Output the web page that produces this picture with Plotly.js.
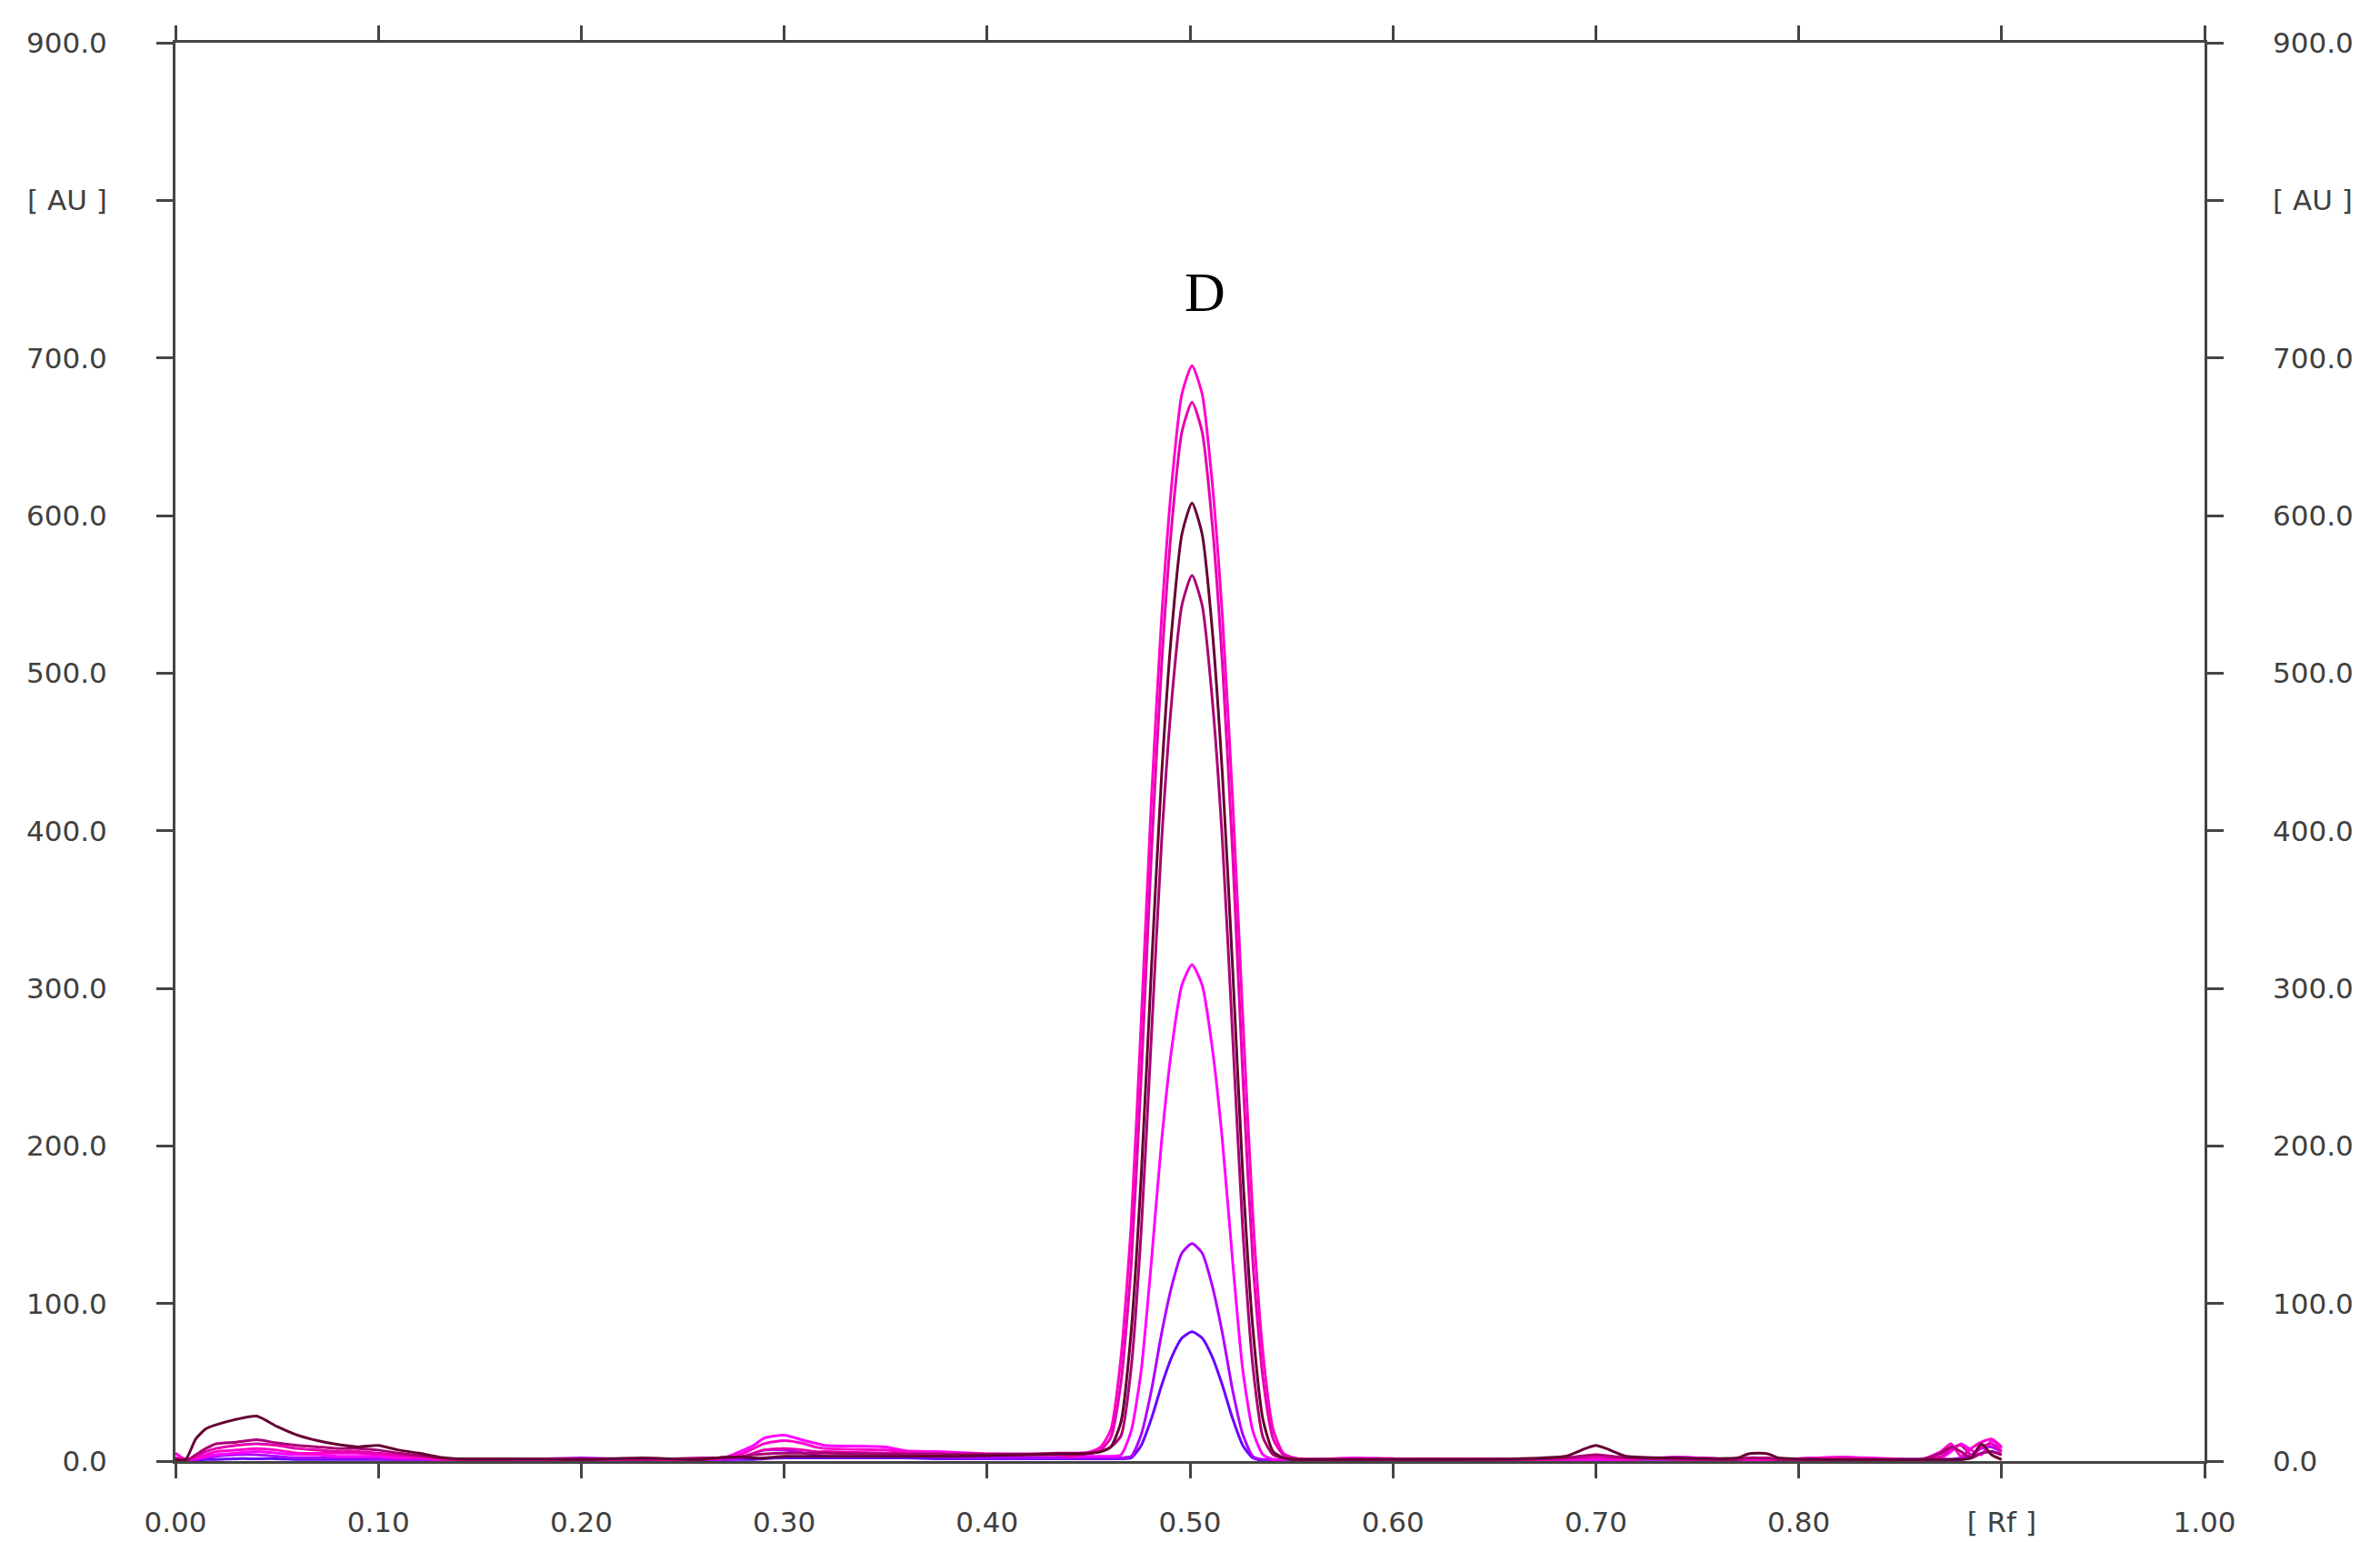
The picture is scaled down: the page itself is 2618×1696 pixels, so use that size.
<!DOCTYPE html>
<html>
<head>
<meta charset="utf-8">
<script src="https://cdn.plot.ly/plotly-3.0.1.min.js"></script>
<style>
  html, body { margin: 0; padding: 0; background: #ffffff; }
  #chart { width: 2618px; height: 1696px; }
</style>
</head>
<body>
<div id="chart"></div>
<script>
// Rf positions (shared by all tracks)
var rf = [0,0.005,0.01,0.015,0.02,0.03,0.04,0.05,0.06,0.07,0.08,0.09,0.10,0.11,0.12,0.13,0.14,
  0.17,0.20,0.23,0.26,
  0.27,0.28,0.285,0.29,0.30,0.31,0.315,0.32,0.35,0.36,0.375,0.40,0.42,0.435,
  0.441,0.446,0.451,0.456,0.461,0.466,0.471,0.476,0.481,0.486,0.491,0.496,0.501,0.506,0.511,0.516,0.521,0.526,0.531,0.536,0.541,0.546,0.551,0.556,0.561,
  0.58,0.62,0.66,0.685,0.695,0.70,0.705,0.715,0.74,0.77,0.775,0.78,0.785,0.79,0.82,0.86,0.87,0.875,0.88,0.885,0.89,0.895,0.90];

// Track signals [AU]
var trackA = [5,1,2,4,6,7,8,7,5,5,5,5,4,3,2,1,1,
  1,1,0.5,1.5,
  2,5,8,11,13,11,9,8,7,6,5,4,4,4,
  4,5,6,9,20,66,150,280,420,535,620,677,695,677,620,535,420,282,155,68,20,5,2,1,1,
  1,1.5,1,1,1.5,2,1.5,1,2,1,1,1,1,1,2.5,1,6,11,3,8,12,14,9];
var trackB = [2,1,3,6,8,10,11,10,8,7,6,6,5,4,3,1.5,1,
  1,1,1,1,
  2,3,5,7,8,7,6,6,5,5,4,4,4,4,
  3,4,5,7,15,50,124,245,386,505,594,653,672,653,594,505,386,245,126,52,14,4,2,1,1,
  1,1,1,1.5,2.5,3,2.5,2,1,1,1.5,1.5,1,1,1,1,3,8,10,4,9,11,6];
var trackC = [1,1,14,20.5,23,26.5,28.5,22,16.5,13,10.5,9,10,7,5,2.5,1.5,
  1.5,1,2,1,
  2.5,2.5,2,2,3,3,3,3,3,3,3,3.5,4,4.5,
  4.5,4.5,5,6,9,25,82,182,313,435,527,588,608,588,527,435,313,182,84,26,6,2,1,1,1,
  1,1,1.5,3,8,10,8,3,2,2,4.5,5,4.5,2,1,1,1,1,1,2,11,4,1];
var trackD = [1,0,4,8,11,12,13.5,11.5,10,9,8,8,7,5,3.5,2,1,
  1,1.5,1,2,
  2,3,4,4.5,5,5,5,5,4.5,4.5,4.5,4.5,4.5,5,
  5,5,5,6,9,16,59,147,270,393,483,543,562,543,483,393,270,147,60,15,4,2,1,1,1,
  1,1.5,1,2,3.5,4,3.5,2,1.5,1,2,2,2,1,1,1,5,9,6,2,5,6,4];
var trackE = [2,1,2,3,4,5,6,5,4,4,3,3,3,2,2,1,1,
  0.5,1,1,1,
  2,7,10,14.5,16.5,13,11.5,10,9,6.5,6,4.6,4.5,4,
  3,3,3,3,3,4,19,58,127,203,262,302,315,302,262,203,127,58,19,4,1,1,1,1,1,
  2,1,1,1,1,1,1,1,2.5,1,1,1,1,1,2.5,1,2,6,11,7,4,13,8];
var trackF = [1,0.5,1,2,3,4,4,3,2,2,2,2,1.5,1,1,1,1,
  1,2,1,1,
  1,2,5,7,7,5,4,3,3,3,2.5,2,2,2,
  2,2,2,2,2,2,3,17,45,81,111,132,138,132,111,81,45,17,3,1,1,1,1,1,1,
  1,1,1,1,1,1,1,1,2.5,1,2,2,1,1,1,1,1,1,2,4,8,9,6];
var trackG = [1,0.5,0.5,1,1,1.5,1.5,1.5,1,1,1,1,1,1,1,1,1,
  1,1,1,1,
  1,1,1,1.5,2,2,2,2,2,2,1.5,1.5,1.5,1.5,
  1.5,1.5,1.5,1.5,1.5,1.5,2,10,27,48,66,78,82,78,66,48,27,10,2,0.5,0.5,0.5,0.5,0.5,0.5,
  1,1,1,1,1,1,1,1,1,1,1,1,1,1,1,1,1,1,1,2,5,6,4];

// last track is drawn on the right-hand (mirrored) axis so that it carries its labels
var tracks = [
  {y: trackG, color: '#6a00ff', axis: 'y'},
  {y: trackF, color: '#b000ff', axis: 'y'},
  {y: trackE, color: '#ff00ff', axis: 'y'},
  {y: trackA, color: '#ff00cc', axis: 'y'},
  {y: trackB, color: '#e600b0', axis: 'y'},
  {y: trackD, color: '#aa0075', axis: 'y'},
  {y: trackC, color: '#660033', axis: 'y2'}
];

var xTickVals = [0,0.1,0.2,0.3,0.4,0.5,0.6,0.7,0.8,0.9,1.0];
var xTickText = ['0.00','0.10','0.20','0.30','0.40','0.50','0.60','0.70','0.80','[ Rf ]','1.00'];
var yTickVals = [0,100,200,300,400,500,600,700,800,900];
var yTickText = ['0.0','100.0','200.0','300.0','400.0','500.0','600.0','700.0','[ AU ]','900.0'];
var peakLabel = 'D';

var axisColor = '#444444';
var tickFont = {family: 'DejaVu Sans', size: 31, color: '#404040'};

var data = tracks.map(function (t) {
  return {
    x: rf, y: t.y, yaxis: t.axis, type: 'scatter', mode: 'lines',
    line: {color: t.color, width: 3, shape: 'spline', smoothing: 0.6},
    hoverinfo: 'skip'
  };
});

var layout = {
  width: 2618, height: 1696,
  margin: {l: 193, r: 193, t: 47, b: 89, pad: 0},
  paper_bgcolor: '#ffffff', plot_bgcolor: '#ffffff',
  showlegend: false,
  xaxis: {
    range: [0, 1], tickmode: 'array', tickvals: xTickVals, ticktext: xTickText,
    showline: true, linecolor: axisColor, linewidth: 3, mirror: 'ticks',
    ticks: 'outside', ticklen: 16, tickwidth: 3, tickcolor: axisColor,
    showgrid: false, zeroline: false, tickfont: tickFont, ticklabelstandoff: 22
  },
  yaxis: {
    range: [0, 900], tickmode: 'array', tickvals: yTickVals, ticktext: yTickText,
    showline: true, linecolor: axisColor, linewidth: 3, mirror: 'ticks',
    ticks: 'outside', ticklen: 18, tickwidth: 3, tickcolor: axisColor,
    showgrid: false, zeroline: false, tickfont: tickFont, ticklabelstandoff: 48
  },
  yaxis2: {
    overlaying: 'y', side: 'right', anchor: 'x',
    range: [0, 900], tickmode: 'array', tickvals: yTickVals, ticktext: yTickText,
    showline: false, ticks: '', showgrid: false, zeroline: false,
    tickfont: tickFont, ticklabelstandoff: 74
  },
  annotations: [{
    x: 0.5076, y: 742, xref: 'x', yref: 'y', text: peakLabel, showarrow: false,
    font: {family: 'Liberation Serif', size: 62, color: '#000000'}
  }]
};

Plotly.newPlot('chart', data, layout, {staticPlot: true, displayModeBar: false});
</script>
</body>
</html>
